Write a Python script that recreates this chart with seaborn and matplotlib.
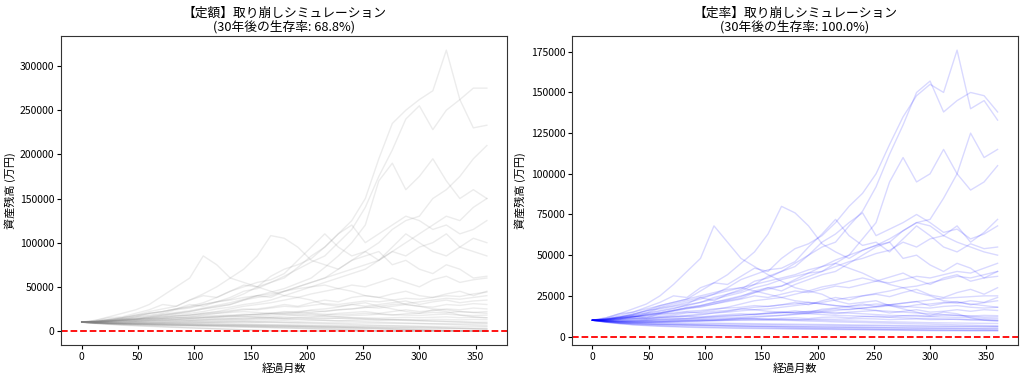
import matplotlib
matplotlib.use("Agg")
import matplotlib.pyplot as plt
import pandas as pd
import seaborn as sns

plt.rcParams["font.family"] = ["Noto Sans CJK JP", "DejaVu Sans"]

# 12-month grid (0..360 months)
MONTHS = list(range(0, 361, 12))

# 【定額】fixed withdrawal paths (万円)
FIXED_PATHS = [
    [10000, 12000, 15000, 16000, 20000, 24000, 30000, 28000, 35000, 40000, 38000, 45000, 52000, 50000, 62000, 70000,
     75000, 82000, 95000, 110000, 125000, 150000, 195000, 235000, 250000, 262000, 272000, 318000, 262000, 275000, 275000],
    [10000, 11000, 13000, 15000, 18000, 20000, 22000, 25000, 30000, 28000, 33000, 38000, 45000, 48000, 55000, 62000,
     70000, 78000, 85000, 100000, 115000, 140000, 175000, 205000, 240000, 255000, 228000, 250000, 262000, 230000, 233000],
    [10000, 10500, 12000, 14000, 13000, 16000, 18000, 20000, 22000, 25000, 28000, 30000, 35000, 40000, 38000, 45000,
     50000, 55000, 60000, 70000, 80000, 90000, 100000, 115000, 125000, 130000, 150000, 160000, 175000, 195000, 210000],
    [10000, 11000, 12500, 13500, 15000, 17000, 19000, 21000, 23000, 26000, 29000, 32000, 36000, 40000, 44000, 48000,
     54000, 60000, 72000, 85000, 100000, 120000, 170000, 190000, 160000, 175000, 195000, 170000, 150000, 160000, 150000],
    [10000, 12000, 16000, 20000, 24000, 30000, 40000, 50000, 60000, 85000, 75000, 60000, 55000, 50000, 45000, 40000,
     38000, 35000, 30000, 28000, 30000, 32000, 28000, 25000, 22000, 20000, 24000, 22000, 18000, 16000, 15000],
    [10000, 11000, 13000, 15000, 18000, 22000, 25000, 28000, 35000, 42000, 50000, 60000, 70000, 85000, 108000, 105000,
     95000, 80000, 75000, 70000, 80000, 85000, 90000, 75000, 80000, 70000, 65000, 75000, 70000, 60000, 62000],
    [10000, 9500, 11000, 13000, 16000, 18000, 20000, 24000, 26000, 30000, 33000, 36000, 42000, 50000, 55000, 60000,
     72000, 85000, 95000, 110000, 120000, 100000, 110000, 120000, 130000, 125000, 115000, 120000, 110000, 115000, 125000],
    [10000, 10000, 12000, 13000, 14000, 16000, 18000, 20000, 22000, 25000, 27000, 30000, 35000, 38000, 40000, 45000,
     50000, 55000, 60000, 65000, 70000, 75000, 80000, 90000, 85000, 95000, 100000, 110000, 95000, 105000, 100000],
    [10000, 11000, 12000, 14000, 16000, 20000, 22000, 25000, 28000, 32000, 38000, 45000, 50000, 55000, 58000, 65000,
     80000, 95000, 110000, 95000, 85000, 90000, 80000, 95000, 110000, 100000, 90000, 85000, 95000, 90000, 85000],
    [10000, 10500, 11000, 12000, 13000, 14000, 15000, 17000, 18000, 20000, 22000, 25000, 28000, 30000, 32000, 35000,
     38000, 42000, 45000, 48000, 52000, 50000, 55000, 60000, 55000, 50000, 58000, 62000, 55000, 58000, 60000],
    [10000, 10000, 11000, 11500, 12000, 13000, 14000, 15000, 16000, 18000, 20000, 22000, 24000, 25000, 27000, 30000,
     28000, 32000, 35000, 33000, 38000, 40000, 38000, 42000, 45000, 40000, 38000, 42000, 45000, 40000, 45000],
    [10000, 9500, 10000, 10500, 11000, 12000, 12500, 13000, 14000, 15000, 16000, 17000, 18000, 19000, 20000, 22000,
     21000, 24000, 25000, 27000, 30000, 28000, 30000, 32000, 34000, 30000, 33000, 35000, 32000, 34000, 35000],
    [10000, 9800, 9600, 10000, 10500, 11000, 11500, 12000, 12500, 13000, 13500, 14000, 15000, 15500, 16000, 17000,
     18000, 19000, 18000, 20000, 21000, 22000, 20000, 22000, 24000, 22000, 23000, 25000, 24000, 26000, 25000],
    [10000, 9500, 9000, 9200, 9500, 9800, 10000, 10500, 10800, 11000, 11500, 12000, 12000, 12500, 13000, 13000,
     13500, 14000, 14000, 14500, 15000, 15000, 14500, 15000, 15500, 15000, 15500, 16000, 15000, 15500, 15000],
    [10000, 9300, 8800, 8500, 8500, 8600, 8800, 9000, 9000, 9200, 9400, 9500, 9500, 9600, 9700, 9500,
     9400, 9500, 9300, 9200, 9000, 9000, 8800, 8600, 8500, 8400, 8300, 8200, 8100, 8000, 8000],
    [10000, 9000, 8200, 7600, 7200, 7000, 6800, 6700, 6600, 6500, 6400, 6300, 6200, 6000, 5800, 5600,
     5400, 5200, 5000, 4800, 4600, 4400, 4200, 4000, 3800, 3600, 3400, 3200, 3100, 3000, 3000],
    [10000, 8800, 8000, 7400, 7000, 6600, 6200, 5800, 5500, 5200, 4900, 4600, 4300, 4000, 3700, 3400,
     3100, 2800, 2400, 2000, 1500, 1000, 0, 0, 0, 0, 0, 0, 0, 0, 0],
    [10000, 8500, 7500, 6500, 5800, 5200, 4600, 4000, 3400, 2900, 2400, 1900, 1400, 900, 400, 0,
     0, 0, 0, 0, 0, 0, 0, 0, 0, 0, 0, 0, 0, 0, 0],
    [10000, 9000, 8500, 8000, 7600, 7300, 7000, 6800, 6500, 6200, 6000, 5700, 5400, 5100, 4800, 4500,
     4200, 3900, 3600, 3300, 3000, 2600, 2200, 1800, 1300, 800, 300, 0, 0, 0, 0],
    [10000, 10500, 11500, 12500, 13500, 15000, 16000, 17000, 18000, 19000, 20000, 21000, 22000, 21000, 20000, 19000,
     18000, 17500, 17000, 16000, 15000, 14000, 13500, 13000, 12500, 12000, 11500, 11000, 10500, 10000, 10000],
    [10000, 11000, 13000, 15000, 17000, 20000, 22000, 25000, 27000, 30000, 33000, 35000, 38000, 40000, 42000, 45000,
     48000, 50000, 52000, 48000, 45000, 40000, 38000, 35000, 30000, 28000, 25000, 24000, 22000, 21000, 20000],
    [10000, 10500, 11000, 12500, 14000, 15000, 17000, 19000, 20000, 22000, 25000, 27000, 30000, 32000, 35000, 40000,
     45000, 50000, 55000, 60000, 65000, 70000, 80000, 90000, 100000, 110000, 120000, 130000, 125000, 140000, 150000],
    [10000, 9400, 9000, 8700, 8500, 8400, 8300, 8200, 8000, 7900, 7800, 7600, 7500, 7400, 7200, 7000,
     6800, 6700, 6500, 6300, 6200, 6000, 5800, 5700, 5500, 5400, 5200, 5100, 5000, 5000, 5000],
    [10000, 9200, 8600, 8200, 7800, 7500, 7200, 7000, 6700, 6500, 6200, 6000, 5700, 5500, 5200, 5000,
     4700, 4400, 4100, 3800, 3500, 3200, 2900, 2500, 2100, 1700, 1300, 800, 300, 0, 0],
    [10000, 10300, 10800, 11500, 12000, 12800, 13500, 14000, 15000, 15500, 16500, 17000, 18000, 19000, 20000, 21000,
     22000, 23000, 22000, 24000, 25000, 27000, 26000, 28000, 30000, 28000, 27000, 30000, 29000, 31000, 30000],
    [10000, 10800, 11500, 12500, 13000, 14000, 14500, 15500, 16000, 17000, 17500, 18000, 19000, 18500, 19500, 20000,
     21000, 20000, 19000, 18500, 19000, 20000, 19500, 18500, 18000, 17500, 18500, 19000, 18000, 17500, 18000],
    [10000, 10200, 10500, 11000, 11200, 11800, 12000, 12500, 12000, 12800, 13500, 14000, 13500, 14500, 15000, 14500,
     15500, 16000, 17000, 16500, 17500, 18000, 19000, 18000, 19500, 20000, 21000, 20500, 22000, 21000, 22000],
    [10000, 9700, 9500, 9400, 9600, 9500, 9800, 10000, 10200, 10000, 10400, 10800, 11000, 10700, 11200, 11500,
     11000, 11800, 12000, 11500, 12200, 12500, 12000, 12800, 13000, 12500, 13200, 13000, 12600, 13000, 12800],
    [10000, 9000, 8400, 8000, 7600, 7300, 7000, 6700, 6400, 6000, 5600, 5200, 4800, 4400, 4000, 3500,
     3000, 2500, 2000, 1500, 1000, 500, 0, 0, 0, 0, 0, 0, 0, 0, 0],
    [10000, 9600, 9200, 9000, 8800, 8600, 8500, 8400, 8200, 8000, 7800, 7600, 7400, 7100, 6800, 6500,
     6200, 5900, 5600, 5300, 5000, 4700, 4400, 4100, 3800, 3500, 3200, 2900, 2600, 2300, 2000],
    [10000, 10500, 11000, 12000, 12500, 13500, 14000, 15000, 14500, 15500, 16000, 17000, 16500, 15500, 15000, 14000,
     13500, 13000, 12000, 11500, 11000, 10500, 10000, 9500, 9000, 8500, 8000, 7500, 7000, 6500, 6000],
    [10000, 10500, 11500, 12000, 13500, 14500, 16000, 17500, 18000, 20000, 21500, 23000, 25000, 24000, 26000, 28000,
     27000, 29000, 31000, 30000, 32000, 34000, 33000, 35000, 37000, 36000, 38000, 40000, 39000, 42000, 44000],
    [10000, 9400, 9000, 8800, 8700, 8800, 9000, 9300, 9500, 9800, 10000, 10300, 10500, 10200, 10000, 9600,
     9200, 8800, 8400, 8000, 7500, 7000, 6500, 6000, 5500, 5000, 4400, 3800, 3200, 2600, 2000],
    [10000, 8800, 7800, 7000, 6300, 5600, 5000, 4400, 3800, 3200, 2600, 2000, 1400, 800, 200, 0,
     0, 0, 0, 0, 0, 0, 0, 0, 0, 0, 0, 0, 0, 0, 0],
    [10000, 10300, 10800, 11200, 11000, 11800, 12500, 13000, 13800, 14500, 15000, 15800, 16500, 17000, 18000, 19000,
     20000, 21000, 22500, 24000, 25000, 26500, 28000, 30000, 31000, 33000, 35000, 37000, 36000, 38000, 40000],
    [10000, 9800, 9700, 9900, 10100, 10500, 10700, 11000, 11500, 12000, 12500, 13000, 13600, 14000, 14500, 15000,
     15200, 15000, 14800, 14400, 14000, 13500, 13000, 12500, 12000, 11500, 11000, 10500, 10000, 9500, 9000],
    [10000, 9200, 8700, 8300, 8000, 7800, 7600, 7400, 7200, 7000, 6800, 6600, 6400, 6200, 6000, 5700,
     5400, 5100, 4800, 4400, 4000, 3500, 3000, 2500, 2000, 1500, 1000, 500, 0, 0, 0],
]

# 【定率】fixed-rate withdrawal paths (万円)
RATE_PATHS = [
    [10000, 11500, 14000, 15000, 18000, 21000, 25000, 24000, 30000, 33000, 32000, 37000, 42000, 40000, 48000, 54000,
     57000, 62000, 70000, 80000, 88000, 100000, 118000, 135000, 148000, 155000, 150000, 176000, 140000, 145000, 133000],
    [10000, 10500, 12000, 13500, 16000, 17000, 18500, 20000, 24000, 22000, 26000, 29000, 34000, 36000, 40000, 45000,
     50000, 55000, 58000, 68000, 77000, 92000, 112000, 130000, 150000, 157000, 138000, 145000, 150000, 148000, 138000],
    [10000, 10000, 11000, 12500, 11500, 14000, 15500, 17000, 18500, 20000, 22000, 23500, 27000, 30000, 28000, 32000,
     35000, 38000, 40000, 45000, 50000, 55000, 58000, 65000, 70000, 72000, 85000, 100000, 125000, 110000, 115000],
    [10000, 10800, 12000, 13000, 14500, 16000, 17500, 19000, 21000, 23000, 25000, 27000, 30000, 32000, 35000, 37000,
     39000, 40000, 45000, 50000, 60000, 70000, 95000, 110000, 95000, 100000, 115000, 100000, 90000, 95000, 105000],
    [10000, 11500, 14000, 17000, 20000, 25000, 32000, 40000, 48000, 68000, 58000, 48000, 43000, 38000, 34000, 30000,
     28000, 26000, 22000, 20000, 21000, 22000, 19000, 17000, 15000, 13000, 15000, 14000, 11500, 10000, 9500],
    [10000, 10500, 12000, 13500, 16000, 19000, 21000, 23000, 28000, 33000, 38000, 45000, 52000, 63000, 80000, 76000,
     68000, 57000, 52000, 48000, 53000, 56000, 58000, 48000, 50000, 44000, 40000, 45000, 42000, 36000, 37000],
    [10000, 9500, 10500, 12000, 14000, 15500, 17000, 19500, 21000, 24000, 26000, 28000, 32000, 37000, 40000, 43000,
     50000, 58000, 63000, 70000, 76000, 62000, 66000, 70000, 75000, 70000, 64000, 66000, 60000, 63000, 68000],
    [10000, 10000, 11500, 12000, 13000, 14500, 16000, 17500, 19000, 21000, 22500, 24500, 28000, 30000, 31000, 34000,
     37000, 40000, 43000, 46000, 48000, 51000, 53000, 58000, 55000, 60000, 62000, 68000, 58000, 64000, 72000],
    [10000, 10500, 11500, 13000, 14500, 17500, 19000, 21000, 23000, 26000, 30000, 35000, 38000, 41000, 42000, 46000,
     55000, 63000, 72000, 62000, 56000, 58000, 52000, 60000, 68000, 62000, 55000, 52000, 57000, 54000, 55000],
    [10000, 10200, 10500, 11000, 11800, 12500, 13200, 14500, 15200, 16500, 18000, 20000, 22000, 23000, 24000, 26000,
     28000, 30500, 32000, 34000, 36000, 34000, 36500, 39000, 35000, 32000, 36000, 38000, 34000, 36000, 40000],
    [10000, 9800, 10200, 10500, 10800, 11500, 12000, 12500, 13200, 14500, 15500, 17000, 18000, 18500, 19500, 21000,
     19500, 22000, 24000, 22500, 25000, 26000, 24500, 27000, 29000, 25500, 24000, 27000, 29000, 26000, 30000],
    [10000, 9400, 9600, 10000, 10300, 10800, 11000, 11300, 11800, 12300, 12800, 13200, 13800, 14300, 14800, 15800,
     14800, 16800, 17500, 18500, 20000, 18500, 19500, 20500, 21500, 18800, 20500, 21500, 19500, 20800, 22000],
    [10000, 9600, 9300, 9500, 9800, 10200, 10500, 10800, 11000, 11300, 11600, 11900, 12400, 12700, 13000, 13500,
     14200, 14800, 14000, 15000, 15500, 16000, 14500, 15500, 16500, 15000, 15500, 16500, 15500, 16500, 16000],
    [10000, 9200, 8600, 8600, 8800, 9000, 9200, 9400, 9500, 9700, 9900, 10000, 10000, 10200, 10400, 10300,
     10500, 10700, 10600, 10800, 11000, 10800, 10400, 10600, 10800, 10400, 10500, 10700, 10200, 10400, 10000],
    [10000, 9100, 8400, 8000, 7800, 7700, 7700, 7700, 7600, 7600, 7600, 7500, 7400, 7300, 7200, 7000,
     6900, 6900, 6800, 6700, 6600, 6500, 6400, 6300, 6200, 6100, 6100, 6000, 6000, 5900, 6000],
    [10000, 8800, 8000, 7300, 6900, 6600, 6300, 6100, 5900, 5700, 5600, 5400, 5300, 5200, 5000, 4900,
     4800, 4700, 4600, 4500, 4400, 4300, 4200, 4100, 4000, 3900, 3900, 3800, 3800, 3800, 3800],
    [10000, 8900, 8300, 7800, 7500, 7200, 7000, 6900, 6800, 6700, 6600, 6500, 6400, 6300, 6200, 6100,
     6000, 5900, 5800, 5700, 5600, 5500, 5400, 5300, 5200, 5100, 5100, 5000, 5000, 4900, 5000],
    [10000, 11000, 13000, 15000, 17000, 19000, 21000, 23000, 25000, 27000, 29000, 30000, 28000, 26000, 24000, 22000,
     21000, 20000, 19000, 18000, 17000, 16000, 15500, 15000, 14500, 14000, 13500, 13000, 12500, 12000, 12000],
    [10000, 10800, 12000, 14000, 15500, 18000, 20000, 22000, 24000, 26000, 28000, 30000, 32000, 34000, 36000, 38000,
     41000, 43000, 45000, 42000, 39000, 35000, 32000, 30000, 27000, 25000, 22000, 21000, 20000, 19000, 18000],
    [10000, 10500, 11000, 12000, 13500, 14500, 16000, 18000, 19000, 21000, 23000, 25000, 27000, 29000, 31000, 35000,
     39000, 43000, 47000, 50000, 53000, 56000, 60000, 65000, 70000, 68000, 62000, 58000, 55000, 52000, 50000],
    [10000, 9500, 9000, 8800, 8800, 9000, 9300, 9500, 9800, 10200, 10700, 11200, 11800, 12400, 13000, 13800,
     14500, 15300, 16000, 16800, 17500, 18500, 19500, 20500, 21500, 22500, 23500, 24000, 24500, 25000, 25000],
    [10000, 9600, 9300, 9200, 9400, 9600, 9800, 10100, 10300, 10600, 10900, 11200, 11000, 10800, 10600, 10400,
     10200, 10000, 9800, 9600, 9400, 9200, 9000, 8900, 8700, 8500, 8400, 8300, 8200, 8100, 8000],
    [10000, 10800, 11500, 12500, 13000, 14000, 14500, 15500, 16000, 17000, 17500, 18000, 19000, 18500, 19500, 20000,
     21000, 20000, 19000, 18500, 19000, 20000, 19500, 18500, 18000, 17500, 18500, 19000, 18000, 17500, 18000],
    [10000, 10200, 10500, 11000, 11200, 11800, 12000, 12500, 12000, 12800, 13500, 14000, 13500, 14500, 15000, 14500,
     15500, 16000, 17000, 16500, 17500, 18000, 19000, 18000, 19500, 20000, 21000, 20500, 22000, 21000, 24000],
    [10000, 9700, 9500, 9400, 9600, 9500, 9800, 10000, 10200, 10000, 10400, 10800, 11000, 10700, 11200, 11500,
     11000, 11800, 12000, 11500, 12200, 12500, 12000, 12800, 13000, 12500, 13200, 13000, 12600, 13000, 12800],
    [10000, 9000, 8400, 8000, 7700, 7400, 7200, 7000, 6800, 6600, 6400, 6200, 6000, 5800, 5600, 5400,
     5300, 5100, 5000, 4900, 4800, 4600, 4500, 4400, 4300, 4200, 4100, 4000, 3900, 3900, 3800],
    [10000, 9600, 9200, 9000, 8800, 8600, 8500, 8400, 8300, 8200, 8100, 8000, 7900, 7800, 7700, 7600,
     7500, 7400, 7300, 7200, 7100, 7000, 6900, 6800, 6700, 6600, 6500, 6400, 6300, 6200, 6100],
    [10000, 10500, 11000, 12000, 12500, 13500, 14000, 15000, 14500, 15500, 16000, 17000, 16500, 15500, 15000, 14500,
     14000, 13500, 13000, 12800, 12500, 12000, 11800, 11500, 11200, 11000, 10800, 10500, 10300, 10000, 9800],
    [10000, 10500, 11500, 12000, 13500, 14500, 16000, 17500, 18000, 20000, 21500, 23000, 25000, 24000, 26000, 28000,
     27000, 29000, 31000, 30000, 32000, 34000, 33000, 35000, 37000, 36000, 38000, 40000, 39000, 42000, 45000],
    [10000, 9400, 9000, 8800, 8700, 8800, 9000, 9300, 9500, 9800, 10000, 10300, 10500, 10200, 10000, 9800,
     9500, 9300, 9000, 8800, 8600, 8400, 8200, 8000, 7800, 7600, 7400, 7200, 7000, 6800, 6600],
    [10000, 8800, 7900, 7200, 6700, 6300, 6000, 5700, 5500, 5300, 5100, 5000, 4900, 4800, 4700, 4600,
     4500, 4400, 4300, 4200, 4100, 4000, 3900, 3800, 3700, 3600, 3500, 3500, 3400, 3400, 3400],
    [10000, 10300, 10800, 11200, 11000, 11800, 12500, 13000, 13800, 14500, 15000, 15800, 16500, 17000, 18000, 19000,
     20000, 21000, 22500, 24000, 25000, 26500, 28000, 30000, 31000, 33000, 35000, 37000, 36000, 38000, 40000],
    [10000, 9800, 9700, 9900, 10100, 10500, 10700, 11000, 11500, 12000, 12500, 13000, 13600, 14000, 14500, 15000,
     15200, 15000, 14800, 14400, 14000, 13500, 13000, 12800, 12500, 12200, 12000, 11800, 11500, 11200, 11000],
    [10000, 9200, 8700, 8300, 8000, 7800, 7600, 7400, 7200, 7000, 6800, 6600, 6400, 6300, 6200, 6100,
     6000, 5900, 5800, 5700, 5600, 5500, 5400, 5300, 5200, 5100, 5000, 4900, 4800, 4700, 4600],
]

TITLES = [
    "【定額】取り崩しシミュレーション\n(30年後の生存率: 68.8%)",
    "【定率】取り崩しシミュレーション\n(30年後の生存率: 100.0%)",
]
X_LABEL = "経過月数"
Y_LABEL = "資産残高 (万円)"


def to_long(paths):
    rows = []
    for i, path in enumerate(paths):
        for m, v in zip(MONTHS, path):
            rows.append({"path": i, "month": m, "value": v})
    return pd.DataFrame(rows)


fig, axes = plt.subplots(1, 2, figsize=(10.24, 3.8), dpi=100)
fig.subplots_adjust(left=0.06, right=0.994, top=0.905, bottom=0.092, wspace=0.146)

for ax, paths, color, title in zip(axes, [FIXED_PATHS, RATE_PATHS], ["gray", "blue"], TITLES):
    df = to_long(paths)
    sns.lineplot(data=df, x="month", y="value", units="path", estimator=None,
                 color=color, alpha=0.15, lw=1.0, ax=ax, legend=False)
    ax.axhline(0, color="red", linestyle="--", lw=1.3)
    ax.set_title(title, fontsize=9.2, linespacing=1.05, pad=4)
    ax.set_xlabel(X_LABEL, fontsize=8, labelpad=1)
    ax.set_ylabel(Y_LABEL, fontsize=8, labelpad=3)
    ax.tick_params(labelsize=7.5, pad=2, length=3)
    ax.set_xticks([0, 50, 100, 150, 200, 250, 300, 350])
    for spine in ax.spines.values():
        spine.set_color("#333333")

fig.savefig("out.png", dpi=100)
